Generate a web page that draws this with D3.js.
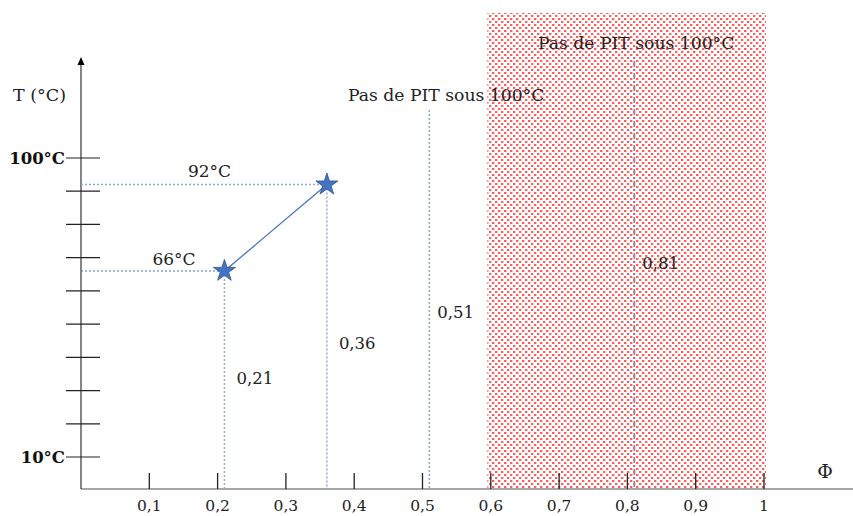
<!DOCTYPE html>
<html>
<head>
<meta charset="utf-8">
<script src="https://cdn.jsdelivr.net/npm/d3@7/dist/d3.min.js"></script>
<style>
  html, body { margin: 0; padding: 0; background: #fff; }
  svg { display: block; font-family: "DejaVu Serif", "Liberation Serif", serif; }
</style>
</head>
<body>
<svg id="chart" width="853" height="516"></svg>
<script>
// ---- Data ----
const xTicks = [0.1, 0.2, 0.3, 0.4, 0.5, 0.6, 0.7, 0.8, 0.9, 1];
const xTickLabels = ["0,1", "0,2", "0,3", "0,4", "0,5", "0,6", "0,7", "0,8", "0,9", "1"];
const yTicks = [10, 20, 30, 40, 50, 60, 70, 80, 90, 100];
const yTickLabels = ["10°C", "", "", "", "", "", "", "", "", "100°C"];
const pointPhi = [0.21, 0.36];
const pointT = [66, 92];
const pointTLabels = ["66°C", "92°C"];
const pointPhiLabels = ["0,21", "0,36"];
const limitPhi = [0.51, 0.81];
const limitPhiLabels = ["0,51", "0,81"];
const zoneRange = [0.595, 1.003];
const limitText = "Pas de PIT sous 100°C";
const xAxisTitle = "Φ";
const yAxisTitle = "T (°C)";

// ---- Layout ----
const svg = d3.select("#chart");
const x = d3.scaleLinear().domain([0, 1]).range([81, 764]);
const y = d3.scaleLinear().domain([10, 100]).range([457, 158]);
const axisY = 489;
const blue = "#4472C4";
const dotBlue = "#8eaadb";

// pattern for red dotted zone
const defs = svg.append("defs");
const pat = defs.append("pattern").attr("id", "dots").attr("patternUnits", "userSpaceOnUse")
  .attr("width", 6).attr("height", 6);
pat.append("rect").attr("x", 0).attr("y", 0).attr("width", 2).attr("height", 2).attr("fill", "#ff5c5c");
pat.append("rect").attr("x", 3).attr("y", 3).attr("width", 2).attr("height", 2).attr("fill", "#ff5c5c");
pat.append("rect").attr("x", 2).attr("y", 0).attr("width", 1).attr("height", 2).attr("fill", "#ffc4c4");
pat.append("rect").attr("x", 5).attr("y", 3).attr("width", 1).attr("height", 2).attr("fill", "#ffc4c4");

svg.append("rect")
  .attr("x", x(zoneRange[0])).attr("y", 13)
  .attr("width", x(zoneRange[1]) - x(zoneRange[0]))
  .attr("height", axisY - 13)
  .attr("fill", "url(#dots)");

// x axis line
svg.append("line").attr("x1", 81).attr("x2", 853).attr("y1", axisY).attr("y2", axisY)
  .attr("stroke", "#8a8a8a").attr("stroke-width", 1.5);
// x ticks
svg.selectAll(".xt").data(xTicks).enter().append("line")
  .attr("x1", d => x(d)).attr("x2", d => x(d)).attr("y1", axisY - 16).attr("y2", axisY)
  .attr("stroke", "#222").attr("stroke-width", 1.3);
svg.selectAll(".xtl").data(xTicks).enter().append("text")
  .attr("x", d => x(d)).attr("y", 511).attr("text-anchor", "middle")
  .attr("font-size", 15.5).attr("fill", "#222")
  .text((d, i) => xTickLabels[i]);

// y axis with arrow
svg.append("line").attr("x1", 81).attr("x2", 81).attr("y1", axisY).attr("y2", 64)
  .attr("stroke", "#333").attr("stroke-width", 1.2);
svg.append("path").attr("d", "M81,57 L77.5,65 L84.5,65 Z").attr("fill", "#000");
svg.selectAll(".yt").data(yTicks).enter().append("line")
  .attr("x1", 66).attr("x2", 100).attr("y1", d => y(d)).attr("y2", d => y(d))
  .attr("stroke", "#222").attr("stroke-width", 1.2);
svg.selectAll(".ytl").data(yTicks).enter().append("text")
  .attr("x", 65).attr("y", d => y(d) + 6).attr("text-anchor", "end")
  .attr("font-size", 16.5).attr("font-weight", "bold").attr("fill", "#111")
  .text((d, i) => yTickLabels[i]);

// axis titles
svg.append("text").attr("x", 13).attr("y", 101).attr("font-size", 17.5).attr("fill", "#222").text(yAxisTitle);
svg.append("text").attr("x", 825).attr("y", 478).attr("text-anchor", "middle").attr("font-size", 19).attr("fill", "#222").text(xAxisTitle);

// dotted guide lines for points
pointPhi.forEach((p, i) => {
  svg.append("line").attr("x1", 81).attr("x2", x(p)).attr("y1", y(pointT[i])).attr("y2", y(pointT[i]))
    .attr("stroke", i === 0 ? blue : dotBlue).attr("stroke-width", i === 0 ? 1.1 : 1.5).attr("stroke-dasharray", "2,2");
  svg.append("line").attr("x1", x(p)).attr("x2", x(p)).attr("y1", y(pointT[i])).attr("y2", axisY)
    .attr("stroke", dotBlue).attr("stroke-width", 1.5).attr("stroke-dasharray", "2,2");
});

// limit lines
const limitTop = [110, 57];
limitPhi.forEach((p, i) => {
  svg.append("line").attr("x1", x(p)).attr("x2", x(p)).attr("y1", limitTop[i]).attr("y2", axisY)
    .attr("stroke", i === 0 ? dotBlue : "#6f86c6").attr("stroke-width", 1.5).attr("stroke-dasharray", "2,2");
});

// connecting line
svg.append("line")
  .attr("x1", x(pointPhi[0])).attr("y1", y(pointT[0]))
  .attr("x2", x(pointPhi[1])).attr("y2", y(pointT[1]))
  .attr("stroke", blue).attr("stroke-width", 1.3);

// stars
const star = d3.symbol().type(d3.symbolStar).size(150);
pointPhi.forEach((p, i) => {
  svg.append("path").attr("d", star())
    .attr("transform", `translate(${x(p)},${y(pointT[i])})`)
    .attr("fill", blue).attr("stroke", "#2f528f").attr("stroke-width", 0.8);
});

// point labels
const tLabelOffsets = [[-72, -6], [-139, -8]];
pointT.forEach((t, i) => {
  svg.append("text").attr("x", x(pointPhi[i]) + tLabelOffsets[i][0]).attr("y", y(t) + tLabelOffsets[i][1])
    .attr("font-size", 17).attr("fill", "#222").text(pointTLabels[i]);
});
const phiLabelY = [384, 349];
pointPhi.forEach((p, i) => {
  svg.append("text").attr("x", x(p) + 12).attr("y", phiLabelY[i])
    .attr("font-size", 16.5).attr("fill", "#222").text(pointPhiLabels[i]);
});
const limLabelY = [318, 269];
limitPhi.forEach((p, i) => {
  svg.append("text").attr("x", x(p) + 8).attr("y", limLabelY[i])
    .attr("font-size", 16.5).attr("fill", "#222").text(limitPhiLabels[i]);
});

// zone texts
svg.append("text").attr("x", 348).attr("y", 101).attr("font-size", 17.2).attr("fill", "#222").text(limitText);
svg.append("text").attr("x", 538).attr("y", 49).attr("font-size", 17.2).attr("fill", "#222").text(limitText);
</script>
</body>
</html>
